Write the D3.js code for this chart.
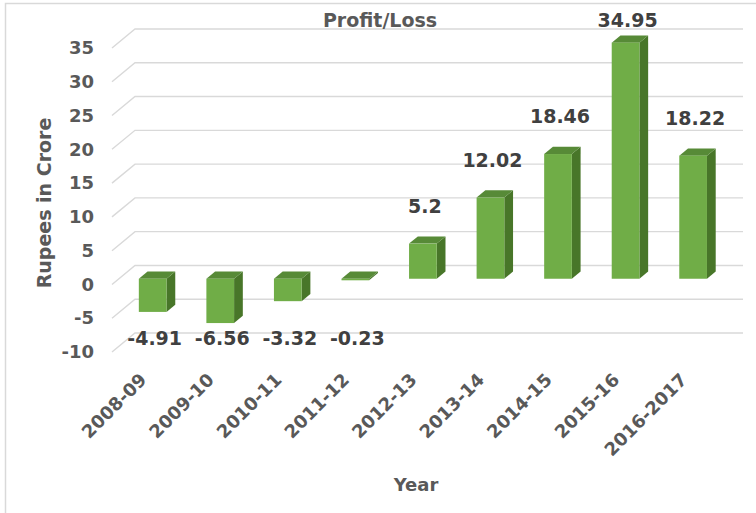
<!DOCTYPE html>
<html>
<head>
<meta charset="utf-8">
<script src="https://cdn.jsdelivr.net/npm/d3@7"></script>
<style>
  body { margin: 0; background: #fff; }
  text { font-family: "DejaVu Sans", Verdana, sans-serif; font-weight: bold; }
</style>
</head>
<body>
<div id="chart"></div>
<script>
// Chart data
const years = ["2008-09", "2009-10", "2010-11", "2011-12", "2012-13", "2013-14", "2014-15", "2015-16", "2016-2017"];
const profit = [-4.91, -6.56, -3.32, -0.23, 5.2, 12.02, 18.46, 34.95, 18.22];
const yTicks = [-10, -5, 0, 5, 10, 15, 20, 25, 30, 35];

const W = 756, H = 513;

const svg = d3.select("#chart").append("svg")
  .attr("width", W)
  .attr("height", H);

// chart border
svg.append("rect")
  .attr("x", 5.5).attr("y", 3.5)
  .attr("width", 800).attr("height", 600)
  .attr("fill", "none")
  .attr("stroke", "#d9d9d9")
  .attr("stroke-width", 1.5);

// back wall scales
const x = d3.scaleBand().domain(years).range([135, 743])
  .paddingInner(0.59).paddingOuter(0.295);
const y = d3.scaleLinear().domain([-10, 35]).range([333, 29]);

// depth vector from back wall to the front edge
const DX = -23, DY = 19;
const fFront = 0.7, fBack = 0.32;
const yFront = d3.scaleLinear().domain(y.domain()).range(y.range().map(v => v + DY));
const yBar = v => y(v) + DY * fFront;
const barShift = DX * fFront;
const dX = DX * (fBack - fFront), dY = DY * (fBack - fFront);

// gridlines on back wall and side wall
const grid = svg.append("g").attr("stroke", "#d9d9d9").attr("stroke-width", 1.4).attr("fill", "none");
yTicks.forEach(t => {
  grid.append("path")
    .attr("d", `M${135 + DX},${y(t) + DY}L135,${y(t)}L743,${y(t)}`);
});

// y axis labels (placed at the front edge)
const yAxis = svg.append("g")
  .attr("transform", `translate(${135 + DX},0)`)
  .call(d3.axisLeft(yFront).tickValues(yTicks).tickFormat(d => String(d)).tickSize(0).tickPadding(18));
yAxis.select(".domain").remove();
yAxis.selectAll("text")
  .style("font-family", '"DejaVu Sans", Verdana, sans-serif')
  .style("font-weight", "bold")
  .style("font-size", "18px")
  .attr("fill", "#595959");

// 3D bars
const bars = svg.append("g");
years.forEach((yr, i) => {
  const v = profit[i];
  const xl = x(yr) + barShift, xr = xl + x.bandwidth();
  const yTop = yBar(Math.max(v, 0)), yBot = yBar(Math.min(v, 0));
  const g = bars.append("g");
  g.append("path") // side
    .attr("d", `M${xr},${yTop}L${xr + dX},${yTop + dY}L${xr + dX},${yBot + dY}L${xr},${yBot}Z`)
    .attr("fill", "#487629");
  g.append("path") // top
    .attr("d", `M${xl},${yTop}L${xr},${yTop}L${xr + dX},${yTop + dY}L${xl + dX},${yTop + dY}Z`)
    .attr("fill", "#578a37");
  g.append("rect") // front
    .attr("x", xl).attr("y", yTop)
    .attr("width", x.bandwidth()).attr("height", Math.max(yBot - yTop, 0.8))
    .attr("fill", "#70ad47");
});

// data labels
const labels = svg.append("g")
  .attr("font-size", "19px")
  .attr("fill", "#404040")
  .attr("text-anchor", "middle");
years.forEach((yr, i) => {
  const v = profit[i];
  const cx = x(yr) + barShift + x.bandwidth() / 2;
  let ly;
  if (v < 0) ly = yFront(-10) - 7;
  else ly = Math.max(yBar(v) - 31, 27);
  labels.append("text")
    .attr("x", cx + 2)
    .attr("y", ly)
    .text(v);
});

// category labels
const cats = svg.append("g")
  .attr("font-size", "18px")
  .attr("fill", "#595959")
  .attr("text-anchor", "end");
years.forEach(yr => {
  const cx = x(yr) + barShift + x.bandwidth() / 2 - 5;
  cats.append("text")
    .attr("transform", `translate(${cx},381) rotate(-45)`)
    .text(yr);
});

// titles
svg.append("text")
  .attr("x", 380).attr("y", 27)
  .attr("text-anchor", "middle")
  .attr("font-size", "19px")
  .attr("fill", "#595959")
  .text("Profit/Loss");

svg.append("text")
  .attr("transform", "translate(51,203) rotate(-90)")
  .attr("text-anchor", "middle")
  .attr("font-size", "19px")
  .attr("fill", "#595959")
  .text("Rupees in Crore");

svg.append("text")
  .attr("x", 416).attr("y", 491)
  .attr("text-anchor", "middle")
  .attr("font-size", "18px")
  .attr("fill", "#595959")
  .text("Year");
</script>
</body>
</html>
